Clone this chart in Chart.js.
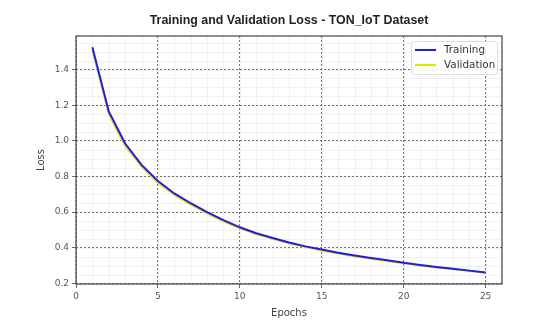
<!DOCTYPE html>
<html>
<head>
<meta charset="utf-8">
<script src="https://cdn.jsdelivr.net/npm/chart.js@4.4.0/dist/chart.umd.min.js"></script>
<style>
    html, body { margin: 0; padding: 0; background: #fff; }
    canvas { display: block; }
</style>
</head>
<body>
<canvas id="lossChart" width="556" height="331"></canvas>
<script>
// values
const epochs = [1, 2, 3, 4, 5, 6, 7, 8, 9, 10, 11, 12, 13, 14, 15, 16, 17, 18, 19, 20, 21, 22, 23, 24, 25];
const trainingLoss = [1.525, 1.165, 0.985, 0.865, 0.775, 0.705, 0.650, 0.600, 0.555, 0.515, 0.482, 0.455, 0.430, 0.408, 0.390,
    0.372, 0.357, 0.343, 0.330, 0.316, 0.304, 0.293, 0.282, 0.272, 0.262];
const validationLoss = [1.510, 1.150, 0.970, 0.855, 0.765, 0.697, 0.642, 0.593, 0.549, 0.510, 0.477, 0.450, 0.426, 0.404, 0.385,
    0.368, 0.353, 0.339, 0.326, 0.313, 0.301, 0.290, 0.280, 0.270, 0.260];
const xTicks = [0, 5, 10, 15, 20, 25];
const yTicks = [0.2, 0.4, 0.6, 0.8, 1.0, 1.2, 1.4];
const xMinorStep = 1;
const yMinorStep = 0.05;
const chartTitle = 'Training and Validation Loss - TON_IoT Dataset';

const GRID = '#555555';
const MINOR = '#ececec';
const TEXT = '#555555';

// light minor grid + frame + title centred over the plot
const minorGridPlugin = {
    id: 'minorGrid',
    beforeDraw(chart) {
        const { ctx, chartArea: a, scales: { x, y } } = chart;
        ctx.save();
        ctx.strokeStyle = MINOR;
        ctx.lineWidth = 0.8;
        ctx.beginPath();
        for (let v = x.min; v <= x.max + 1e-9; v += xMinorStep) {
            const px = Math.round(x.getPixelForValue(v)) + 0.5;
            ctx.moveTo(px, a.top);
            ctx.lineTo(px, a.bottom);
        }
        for (let v = yTicks[0]; v <= y.max + 1e-9; v += yMinorStep) {
            const py = Math.round(y.getPixelForValue(v)) + 0.5;
            ctx.moveTo(a.left, py);
            ctx.lineTo(a.right, py);
        }
        ctx.stroke();

        ctx.fillStyle = '#222';
        ctx.font = 'bold 12.4px "Liberation Sans", Arial, sans-serif';
        ctx.textAlign = 'center';
        ctx.textBaseline = 'middle';
        ctx.fillText(chartTitle, (a.left + a.right) / 2, 21);
        ctx.restore();
    },
    afterDatasetsDraw(chart) {
        const { ctx, chartArea: a } = chart;
        ctx.save();
        ctx.strokeStyle = '#444';
        ctx.lineWidth = 1.2;
        ctx.strokeRect(a.left, a.top, a.right - a.left, a.bottom - a.top);
        ctx.restore();
    }
};

// legend box in the upper right corner of the plot
const boxLegendPlugin = {
    id: 'boxLegend',
    afterDatasetsDraw(chart) {
        const { ctx, chartArea: a } = chart;
        const sets = chart.data.datasets;
        const w = 86, rowH = 15;
        const h = sets.length * rowH + 3;
        const bx = a.right - w - 5, by = a.top + 5;
        ctx.save();
        ctx.fillStyle = 'rgba(255,255,255,0.85)';
        ctx.strokeStyle = '#dddddd';
        ctx.lineWidth = 1;
        ctx.beginPath();
        ctx.roundRect(bx + 0.5, by + 0.5, w, h, 3);
        ctx.fill();
        ctx.stroke();
        ctx.font = '10.4px "DejaVu Sans"';
        ctx.textBaseline = 'middle';
        sets.forEach((ds, i) => {
            const cy = by + 9 + i * rowH;
            ctx.strokeStyle = ds.borderColor;
            ctx.lineWidth = 2;
            ctx.beginPath();
            ctx.moveTo(bx + 4, cy);
            ctx.lineTo(bx + 25, cy);
            ctx.stroke();
            ctx.fillStyle = '#333';
            ctx.fillText(ds.label, bx + 33, cy);
        });
        ctx.restore();
    }
};

new Chart(document.getElementById('lossChart'), {
    type: 'line',
    data: {
        datasets: [
            {
                label: 'Training',
                data: epochs.map((e, i) => ({ x: e, y: trainingLoss[i] })),
                borderColor: '#1c1cf0',
                borderWidth: 2,
                pointRadius: 0,
                tension: 0,
                order: 1
            },
            {
                label: 'Validation',
                data: epochs.map((e, i) => ({ x: e, y: validationLoss[i] })),
                borderColor: '#e8e200',
                borderWidth: 2,
                pointRadius: 0,
                tension: 0,
                order: 2
            }
        ]
    },
    options: {
        responsive: false,
        animation: false,
        layout: { padding: { left: 0, right: 54, top: 36, bottom: 0 } },
        plugins: {
            legend: { display: false },
            tooltip: { enabled: false },
            title: { display: false }
        },
        scales: {
            x: {
                type: 'linear',
                min: 0,
                max: 26,
                afterBuildTicks: (scale) => { scale.ticks = xTicks.map(v => ({ value: v })); },
                afterFit: (scale) => { scale.height = 47; },
                border: { display: false, dash: [2, 2] },
                grid: { color: GRID, lineWidth: 0.8, tickLength: 4, tickColor: '#444', tickBorderDash: [] },
                ticks: { color: TEXT, padding: 3, maxRotation: 0, font: { family: '"DejaVu Sans"', size: 9 } },
                title: {
                    display: true, text: 'Epochs', color: '#444',
                    font: { family: '"DejaVu Sans"', size: 10 },
                    padding: { top: 0, bottom: 12 }
                }
            },
            y: {
                min: 0.197,
                max: 1.588,
                afterBuildTicks: (scale) => { scale.ticks = yTicks.map(v => ({ value: v })); },
                afterFit: (scale) => { scale.width = 76; },
                border: { display: false, dash: [2, 2] },
                grid: { color: GRID, lineWidth: 0.8, tickLength: 4, tickColor: '#444', tickBorderDash: [] },
                ticks: {
                    color: TEXT, padding: 3,
                    font: { family: '"DejaVu Sans"', size: 9 },
                    callback: (v) => v.toFixed(1)
                },
                title: {
                    display: true, text: 'Loss', color: '#444',
                    font: { family: '"DejaVu Sans"', size: 10 },
                    padding: { top: 35, bottom: 0 }
                }
            }
        }
    },
    plugins: [minorGridPlugin, boxLegendPlugin]
});
</script>
</body>
</html>
